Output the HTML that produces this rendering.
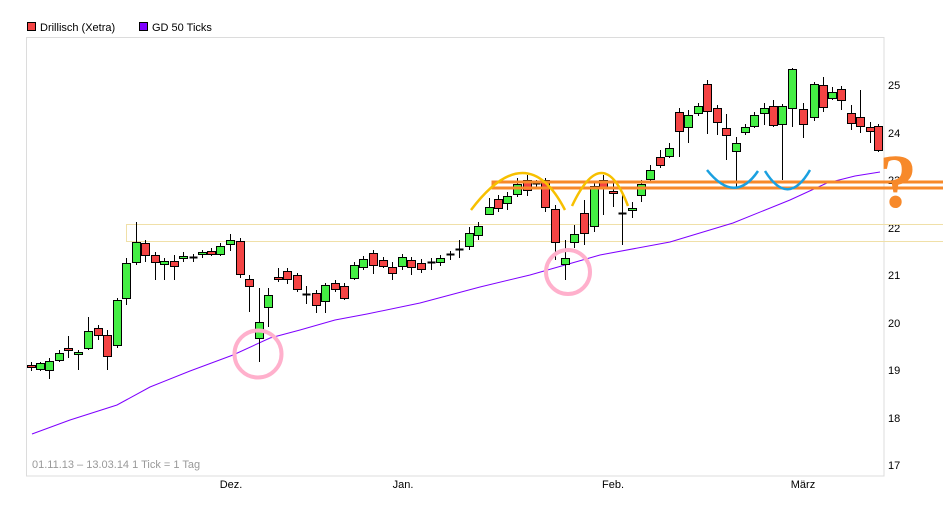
<!DOCTYPE html>
<html><head><meta charset="utf-8"><style>
body{margin:0;background:#fff;width:943px;height:520px;overflow:hidden;font-family:"Liberation Sans",sans-serif}
svg text{font-family:"Liberation Sans",sans-serif}
</style></head><body>
<svg id="s" width="943" height="520" xmlns="http://www.w3.org/2000/svg">
<rect x="0" y="0" width="943" height="520" fill="#fff"/>
<rect x="27.5" y="22.5" width="8" height="8" fill="#f44444" stroke="#000"/>
<text x="40" y="31" font-size="11" fill="#000">Drillisch (Xetra)</text>
<rect x="139.5" y="22.5" width="8" height="8" fill="#7f00ff" stroke="#000"/>
<text x="152" y="31" font-size="11" fill="#000">GD 50 Ticks</text>
<rect x="26.5" y="37.5" width="857.5" height="438.5" fill="none" stroke="#dcdcdc"/>
<text x="32" y="468" font-size="11" fill="#999">01.11.13 – 13.03.14   1 Tick = 1 Tag</text>
<g font-size="11" fill="#000">
<text x="888" y="89">25</text><text x="888" y="137">24</text><text x="888" y="184">23</text>
<text x="888" y="232">22</text><text x="888" y="279">21</text><text x="888" y="327">20</text>
<text x="888" y="374">19</text><text x="888" y="422">18</text><text x="888" y="469">17</text>
<text x="231" y="488" text-anchor="middle">Dez.</text><text x="403" y="488" text-anchor="middle">Jan.</text>
<text x="613" y="488" text-anchor="middle">Feb.</text><text x="803" y="488" text-anchor="middle">März</text>
</g>
<rect x="126.5" y="224.5" width="820" height="17" fill="none" stroke="#f0e0a8" stroke-width="1"/>
<polyline fill="none" stroke="#7f00ff" stroke-width="1" points="32,434 70,420 117,405 150,387 190,371 233,355 270,338 300,330 335,320 367,314 420,303 480,287 530,275 565,265 600,255 670,242 733,223 790,200 827,183 855,176 880,172"/>
<g id="c"></g>
<rect x="493" y="182" width="452" height="6" fill="none" stroke="#f7892a" stroke-width="3"/>
<path d="M471,210 Q527,136 565,210" fill="none" stroke="#f7c000" stroke-width="2.5"/>
<path d="M572,206 Q603,140 628,206" fill="none" stroke="#f7c000" stroke-width="2.5"/>
<path d="M707,170 Q735,205 758,171 M765,171 Q788,208 810,170" fill="none" stroke="#1aa0e0" stroke-width="2.5"/>
<circle cx="258" cy="354" r="23.5" fill="none" stroke="#ffb0cc" stroke-width="4"/>
<circle cx="568" cy="272" r="22" fill="none" stroke="#ffb0cc" stroke-width="4"/>
<text x="898" y="207" font-size="76" font-weight="bold" fill="#f7892a" text-anchor="middle" style="font-family:'Liberation Serif',serif">?</text>
</svg>
<script>
var d=[[31,365,367,362,371],[40,369,363,362,371],[49,370,361,358,379],[59,360,353,350,362],[68,348,350,336,358],[78,354,352,350,370],[88,348,331,317,350],[98,328,335,325,340],[107,335,356,330,370],[117,345,300,298,348],[126,298,263,258,305],[136,262,242,222,265],[145,243,255,240,262],[155,255,262,252,280],[164,264,261,258,280],[174,261,266,255,280],[183,258,256,252,262],[193,257,257,254,262],[202,254,252,250,258],[211,251,254,248,256],[220,254,246,243,256],[230,244,240,234,251],[240,241,274,238,278],[249,279,286,275,312],[259,338,322,288,362],[268,307,295,288,327],[278,277,279,268,282],[287,271,279,268,284],[297,275,289,273,292],[306,294,294,286,304],[316,293,305,290,313],[325,301,285,283,313],[335,283,289,280,292],[344,286,298,283,300],[354,278,265,262,280],[363,267,259,256,270],[373,253,265,250,274],[383,260,266,257,268],[392,267,273,262,280],[402,266,257,254,270],[411,260,267,257,275],[421,263,269,259,273],[431,262,262,258,270],[440,262,258,255,266],[450,254,254,251,260],[459,249,249,240,258],[469,246,233,227,250],[478,235,226,222,240],[489,214,207,198,215],[498,199,208,195,212],[507,203,196,192,210],[517,194,184,178,197],[527,180,190,175,196],[536,183,183,180,188],[545,180,207,178,212],[555,209,242,205,260],[565,264,258,240,280],[574,242,234,225,248],[584,213,233,200,245],[594,226,186,181,232],[603,180,187,175,215],[613,191,193,183,207],[622,213,213,192,245],[632,210,208,202,218],[641,195,184,180,202],[650,179,170,165,181],[660,157,165,150,168],[669,156,148,143,158],[679,112,131,108,157],[688,127,115,110,143],[698,113,106,103,116],[707,84,111,80,134],[717,108,122,105,135],[726,128,135,114,160],[736,151,143,137,188],[745,132,127,124,135],[754,126,115,112,128],[764,113,108,103,125],[773,106,125,100,127],[782,124,106,104,180],[792,108,69,68,127],[803,109,124,103,138],[814,117,84,82,121],[823,85,107,77,112],[832,98,92,87,100],[841,89,100,86,110],[851,113,123,105,130],[860,117,126,90,133],[870,127,131,122,143],[878,126,150,124,152]];
var g=document.getElementById('c'),h='';
d.forEach(function(c){var x=c[0],o=c[1],cl=c[2],hi=c[3],lo=c[4];
var up=cl<o,t=Math.min(o,cl),b=Math.max(o,cl);
h+='<line x1="'+(x+.5)+'" x2="'+(x+.5)+'" y1="'+hi+'" y2="'+lo+'" stroke="#000"/>';
if(b-t<1.5){h+='<line x1="'+(x-3.5)+'" x2="'+(x+4.5)+'" y1="'+(t+.5)+'" y2="'+(t+.5)+'" stroke="#000" stroke-width="2"/>';}
else h+='<rect x="'+(x-3.5)+'" y="'+(t+.5)+'" width="8" height="'+(b-t)+'" fill="'+(up?'#44ee44':'#f44444')+'" stroke="#000"/>';});
g.innerHTML=h;
</script>
</body></html>
